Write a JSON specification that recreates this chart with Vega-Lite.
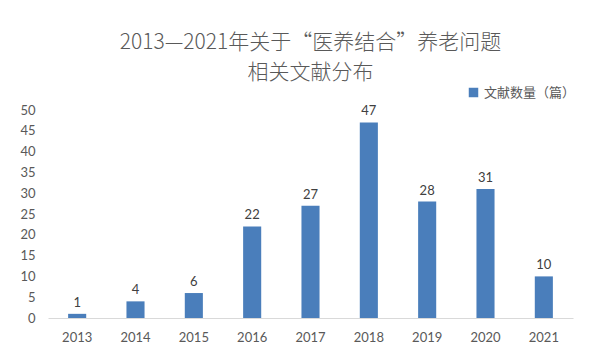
{
  "$schema": "https://vega.github.io/schema/vega-lite/v6.json",
  "width": 525,
  "height": 208,
  "autosize": "none",
  "padding": {"left": 48, "top": 110, "right": 42, "bottom": 40},
  "background": "white",
  "title": {
    "text": ["2013—2021年关于“医养结合”养老问题", "相关文献分布"],
    "font": "Noto Sans CJK SC",
    "fontSize": 21,
    "fontWeight": 300,
    "color": "#595959",
    "lineHeight": 30,
    "anchor": "middle",
    "offset": 3
  },
  "data": {
    "values": [
      {"year": "2013", "count": 1, "series": "文献数量（篇）"},
      {"year": "2014", "count": 4, "series": "文献数量（篇）"},
      {"year": "2015", "count": 6, "series": "文献数量（篇）"},
      {"year": "2016", "count": 22, "series": "文献数量（篇）"},
      {"year": "2017", "count": 27, "series": "文献数量（篇）"},
      {"year": "2018", "count": 47, "series": "文献数量（篇）"},
      {"year": "2019", "count": 28, "series": "文献数量（篇）"},
      {"year": "2020", "count": 31, "series": "文献数量（篇）"},
      {"year": "2021", "count": 10, "series": "文献数量（篇）"}
    ]
  },
  "encoding": {
    "x": {
      "field": "year",
      "type": "ordinal",
      "scale": {"paddingInner": 0.69, "paddingOuter": 0.345},
      "axis": {
        "title": null,
        "labelAngle": 0,
        "labelFont": "Lato",
        "labelFontSize": 13,
        "labelColor": "#595959",
        "labelPadding": 13,
        "ticks": false,
        "domainColor": "#d9d9d9",
        "domainWidth": 1
      }
    },
    "y": {
      "field": "count",
      "type": "quantitative",
      "scale": {"domain": [0, 50]},
      "axis": {
        "title": null,
        "values": [0, 5, 10, 15, 20, 25, 30, 35, 40, 45, 50],
        "labelFont": "Lato",
        "labelFontSize": 13,
        "labelColor": "#595959",
        "labelPadding": 13,
        "ticks": false,
        "domain": false,
        "grid": false
      }
    }
  },
  "layer": [
    {
      "mark": {"type": "bar", "color": "#4a7ebb"},
      "encoding": {
        "color": {
          "field": "series",
          "type": "nominal",
          "scale": {"range": ["#4a7ebb"]},
          "legend": {
            "title": null,
            "orient": "none",
            "legendX": 419,
            "legendY": -24,
            "symbolType": "square",
            "symbolSize": 90,
            "labelFont": "Noto Sans CJK SC",
            "labelFontSize": 13,
            "labelColor": "#595959",
            "labelOffset": 4
          }
        }
      }
    },
    {
      "mark": {"type": "text", "dy": -11, "font": "Lato", "fontSize": 13, "color": "#404040"},
      "encoding": {"text": {"field": "count", "type": "quantitative"}}
    }
  ],
  "config": {"view": {"stroke": null}}
}
